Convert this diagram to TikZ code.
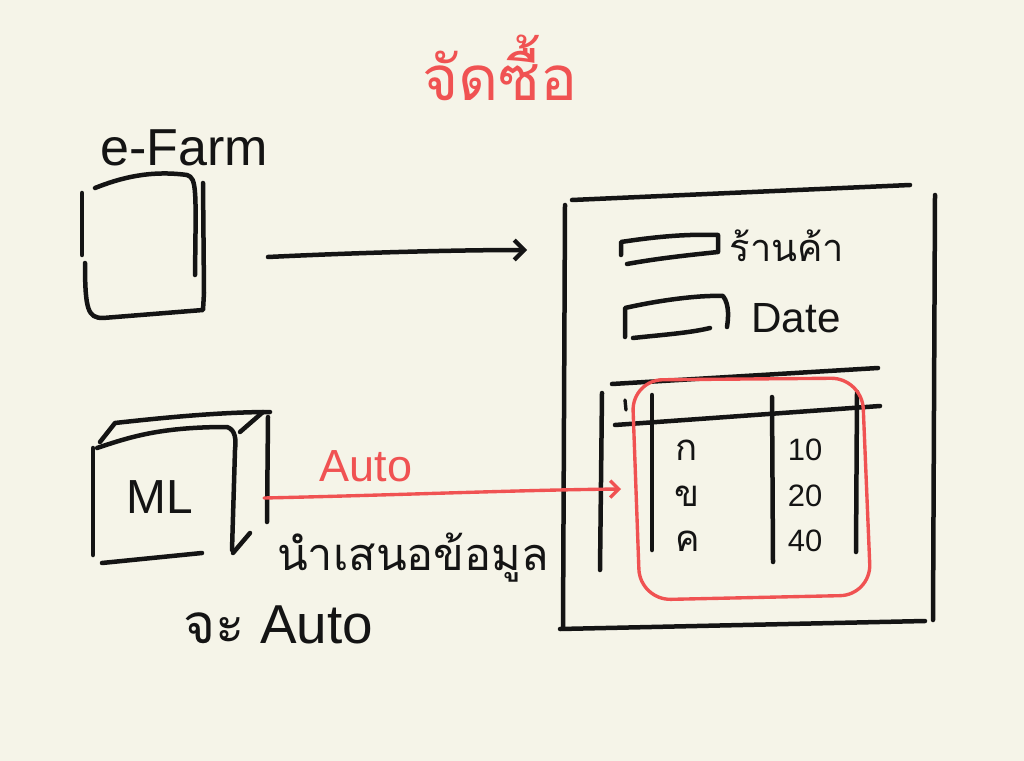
\documentclass[tikz,border=0pt]{standalone}
\usepackage{fontspec}
\setmainfont{Liberation Sans}
\newfontfamily\thaifont[Script=Thai]{Loma}
\usetikzlibrary{arrows.meta}
\definecolor{bg}{RGB}{245,244,232}
\definecolor{pen}{RGB}{20,20,20}
\definecolor{redpen}{RGB}{240,82,82}
\begin{document}
\begin{tikzpicture}[x=0.025cm,y=-0.025cm,
  ink/.style={draw=pen,line width=3.2pt,line cap=round,line join=round},
  rink/.style={draw=redpen,line width=2.4pt,line cap=round,line join=round},
  lbl/.style={inner sep=0pt,text=pen},
  barb/.style={-{Straight Barb[length=7pt,width=14pt,line width=3pt]}},
]
\fill[bg] (0,0) rectangle (1024,761);
\useasboundingbox (0,0) rectangle (1024,761);

% title
\node[lbl,text=redpen,font=\thaifont\fontsize{44}{48}\selectfont] (title) at (500,68) {จัดซื้อ};

% e-Farm
\node[lbl,font=\fontsize{37}{40}\selectfont] (efarmlbl) at (184,148) {e-Farm};
\draw[ink] (82,193) -- (82,255);
\draw[ink] (95,188) .. controls (120,178) and (150,170) .. (187,175) .. controls (197,178) and (196,190) .. (195,275);
\draw[ink] (203,183) -- (204,293) -- (203,310) -- (103,318) .. controls (88,318) and (85,310) .. (85,263);

% arrow e-Farm -> panel
\coordinate (a1) at (268,257);
\coordinate (a2) at (527,250);
\draw[ink,barb] (a1) .. controls (350,253) and (450,250) .. (a2);

% panel
\draw[ink] (572,200) -- (910,185);
\draw[ink] (565,205) -- (563,628);
\draw[ink] (560,629) -- (925,621);
\draw[ink] (935,195) -- (933,620);

% fields
\draw[ink] (621,255) -- (621,242) .. controls (660,236) and (690,234) .. (718,235) -- (718,252) .. controls (690,255) and (660,258) .. (627,264);
\node[lbl,font=\thaifont\fontsize{27}{30}\selectfont] (shop) at (787,246) {ร้านค้า};
\draw[ink] (625,337) -- (625,308) .. controls (660,300) and (700,295) .. (723,296) .. controls (730,305) and (728,320) .. (727,327);
\draw[ink] (633,338) .. controls (660,335) and (690,333) .. (710,328);
\node[lbl,font=\fontsize{30}{34}\selectfont] (date) at (796,318) {Date};

% table
\draw[ink] (612,384) -- (878,368);
\draw[ink] (615,425) -- (880,406);
\draw[ink] (602,393) -- (600,570);
\draw[ink] (652,395) -- (652,550);
\draw[ink] (772,397) -- (773,562);
\draw[ink] (857,392) -- (856,552);
\draw[draw=pen,line width=2.4pt,line cap=round] (625,400) -- (626,410);
\node[lbl,font=\thaifont\fontsize{26}{30}\selectfont] (r1) at (687,450) {ก};
\node[lbl,font=\thaifont\fontsize{26}{30}\selectfont] (r2) at (687,496) {ข};
\node[lbl,font=\thaifont\fontsize{26}{30}\selectfont] (r3) at (688,541) {ค};
\node[lbl,font=\fontsize{22}{26}\selectfont] (v1) at (805,450) {10};
\node[lbl,font=\fontsize{22}{26}\selectfont] (v2) at (805,496) {20};
\node[lbl,font=\fontsize{22}{26}\selectfont] (v3) at (805,541) {40};
\draw[rink,rounded corners=22pt] (632,380) -- (862,378) -- (871,595) -- (640,600) -- cycle;

% ML cube
\draw[ink] (93,448) -- (93,555);
\draw[ink] (97,448) .. controls (130,437) and (160,427) .. (227,427) .. controls (236,430) and (236,440) .. (235,450) -- (232,550);
\draw[ink] (102,563) -- (202,553);
\draw[ink] (100,442) -- (115,423) .. controls (160,418) and (220,412) .. (270,412);
\draw[ink] (268,417) -- (267,522);
\draw[ink] (240,432) -- (263,412);
\draw[ink] (233,553) -- (250,533);
\node[lbl,font=\fontsize{34}{38}\selectfont] (ml) at (160,497) {ML};

% red arrow
\coordinate (b1) at (264,498);
\coordinate (b2) at (621,489);
\draw[rink,-{Straight Barb[length=6pt,width=12pt,line width=2.4pt]}] (b1) .. controls (400,495) and (520,490) .. (b2);
\node[lbl,text=redpen,font=\fontsize{32}{36}\selectfont] (auto) at (366,466) {Auto};

% bottom texts
\node[lbl,font=\thaifont\fontsize{32}{36}\selectfont] (present) at (413,558) {นำเสนอข้อมูล};
\node[lbl,font=\fontsize{39}{42}\selectfont] (auto2) at (278,625) {{\thaifont จะ} Auto};
\end{tikzpicture}
\end{document}
